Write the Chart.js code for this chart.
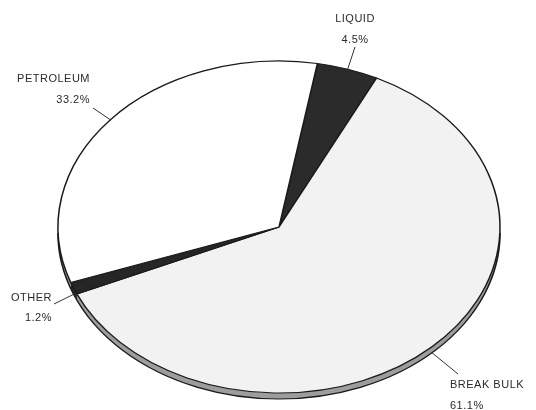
<!DOCTYPE html>
<html>
<head>
<meta charset="utf-8">
<script src="https://cdn.jsdelivr.net/npm/chart.js@4"></script>
<style>
  html, body { margin: 0; padding: 0; background: #fff; }
  canvas { display: block; }
</style>
</head>
<body>
<canvas id="cargo-pie" width="536" height="410"></canvas>
<script>
// cargo shares, clockwise starting from the LIQUID slice
const categories = ['LIQUID', 'BREAK BULK', 'OTHER', 'PETROLEUM'];
const shares = [4.5, 61.1, 1.2, 33.2];
const shareLabels = ['4.5%', '61.1%', '1.2%', '33.2%'];

// look of the tilted pie
const faceColors = ['#2b2b2b', '#f2f2f2', '#262626', '#ffffff'];
const rimColors = ['#555555', '#9d9d9d', '#2b2b2b', '#a9a9a9'];
const PIE = { cx: 279, cy: 227, rx: 221, ry: 166, depth: 6 };

// where the callout texts sit (x, two text rows, alignment, outer end of leader)
const labelLayout = [
    { x: 355, y1: 19, y2: 40, align: 'center', end: [355, 47] },
    { x: 450, y1: 385, y2: 406, align: 'left', end: [458, 374] },
    { x: 52, y1: 298, y2: 318, align: 'right', end: [54, 304] },
    { x: 90, y1: 79, y2: 100, align: 'right', end: [93, 108] }
];

// squash the round pie into an ellipse and give it a thin rim
const tiltedPie = {
    id: 'tiltedPie',
    beforeDatasetsDraw(chart) {
        const ctx = chart.ctx;
        const arcs = chart.getDatasetMeta(0).data;
        const x = arcs[0].x, y = arcs[0].y, R = arcs[0].outerRadius;
        ctx.save();
        ctx.translate(PIE.cx, PIE.cy);
        ctx.scale(PIE.rx / R, PIE.ry / R);
        ctx.translate(-x, -y);

        const dd = PIE.depth * R / PIE.ry;
        arcs.forEach((arc, i) => {
            for (let k = -1; k <= 2; k++) {
                const lo = k * 2 * Math.PI, hi = lo + Math.PI;
                const s = Math.max(arc.startAngle, lo);
                const e = Math.min(arc.endAngle, hi);
                if (s >= e) continue;
                ctx.beginPath();
                ctx.arc(x, y, R, s, e);
                ctx.arc(x, y + dd, R, e, s, true);
                ctx.closePath();
                ctx.fillStyle = rimColors[i];
                ctx.fill();
            }
        });
        ctx.beginPath();
        ctx.arc(x, y + dd, R, 0, Math.PI);
        ctx.lineWidth = 1.5;
        ctx.strokeStyle = '#1a1a1a';
        ctx.stroke();
    },
    afterDatasetsDraw(chart) {
        chart.ctx.restore();
    }
};

// callouts with leader lines
const callouts = {
    id: 'callouts',
    afterDraw(chart) {
        const ctx = chart.ctx;
        const arcs = chart.getDatasetMeta(0).data;
        ctx.save();
        ctx.font = '11px "Liberation Sans", Arial, sans-serif';
        ctx.letterSpacing = '0.5px';
        ctx.fillStyle = '#2a2a2a';
        ctx.strokeStyle = '#333';
        ctx.lineWidth = 1;
        ctx.textBaseline = 'middle';
        arcs.forEach((arc, i) => {
            const mid = (arc.startAngle + arc.endAngle) / 2;
            const sin = Math.sin(mid);
            const px = PIE.cx + PIE.rx * Math.cos(mid);
            const py = PIE.cy + PIE.ry * sin + (sin > 0 ? PIE.depth : 0);
            const L = labelLayout[i];
            ctx.beginPath();
            ctx.moveTo(px, py);
            ctx.lineTo(L.end[0], L.end[1]);
            ctx.stroke();
            ctx.textAlign = L.align;
            ctx.fillText(categories[i], L.x, L.y1);
            ctx.fillText(shareLabels[i], L.x, L.y2);
        });
        ctx.restore();
    }
};

const ctx1 = document.getElementById('cargo-pie');

new Chart(ctx1, {
    type: 'pie',
    data: {
        labels: categories,
        datasets: [
            {
                data: shares,
                backgroundColor: faceColors,
                borderColor: '#1a1a1a',
                borderWidth: 1.4,
                clip: false
            }
        ]
    },
    options: {
        responsive: false,
        animation: false,
        events: [],
        rotation: 10,
        plugins: {
            legend: { display: false },
            tooltip: { enabled: false }
        }
    },
    plugins: [tiltedPie, callouts]
});
</script>
</body>
</html>
